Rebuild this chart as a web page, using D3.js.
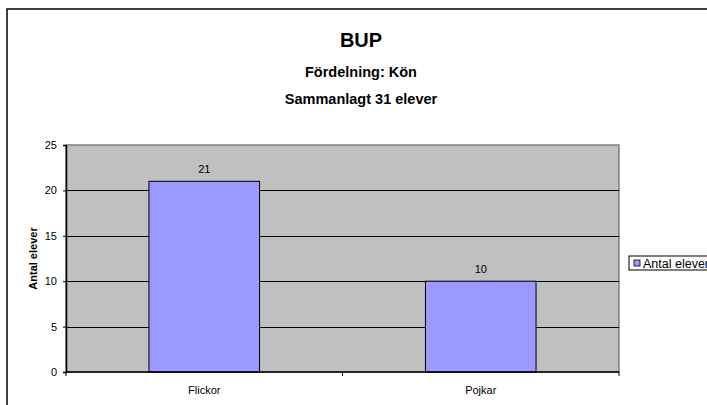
<!DOCTYPE html>
<html>
<head>
<meta charset="utf-8">
<script src="https://cdn.jsdelivr.net/npm/d3@7"></script>
<style>
  body { margin: 0; background: #fff; }
  svg { display: block; font-family: "Liberation Sans", Arial, sans-serif; }
</style>
</head>
<body>
<div id="chart"></div>
<script>
// data
const categories = ["Flickor", "Pojkar"];
const values = [21, 10];
const yTicks = [0, 5, 10, 15, 20, 25];
const titleLines = ["BUP", "Fördelning: Kön", "Sammanlagt 31 elever"];
const seriesName = "Antal elever";
const yLabel = "Antal elever";

/* sizes */
const width = 707, height = 405;
const plot = {left: 66, right: 619, top: 145, bottom: 372};

const svg = d3.select("#chart").append("svg")
  .attr("width", width)
  .attr("height", height);

/* outer chart frame (runs off right / bottom edges) */
svg.append("rect")
  .attr("x", 7).attr("y", 9)
  .attr("width", 720).attr("height", 420)
  .attr("fill", "#fff")
  .attr("stroke", "#000")
  .attr("stroke-width", 1.5);

/* titles */
svg.append("text")
  .attr("x", 361).attr("y", 47)
  .attr("text-anchor", "middle")
  .attr("font-size", 20).attr("font-weight", "bold")
  .text(titleLines[0]);
svg.append("text")
  .attr("x", 361).attr("y", 77)
  .attr("text-anchor", "middle")
  .attr("font-size", 14.5).attr("font-weight", "bold")
  .text(titleLines[1]);
svg.append("text")
  .attr("x", 361).attr("y", 104)
  .attr("text-anchor", "middle")
  .attr("font-size", 14.5).attr("font-weight", "bold")
  .text(titleLines[2]);

/* scales */
const x = d3.scaleBand()
  .domain(categories)
  .range([plot.left, plot.right]);
const y = d3.scaleLinear()
  .domain([0, 25])
  .range([plot.bottom, plot.top]);

/* plot area */
svg.append("rect")
  .attr("x", plot.left).attr("y", plot.top)
  .attr("width", plot.right - plot.left)
  .attr("height", plot.bottom - plot.top)
  .attr("fill", "#c0c0c0")
  .attr("stroke", "#808080")
  .attr("stroke-width", 1.5);

/* gridlines */
svg.append("g").selectAll("line")
  .data(yTicks.filter(d => d > 0 && d < 25))
  .enter().append("line")
  .attr("x1", plot.left).attr("x2", plot.right)
  .attr("y1", d => Math.round(y(d)) + 0.5)
  .attr("y2", d => Math.round(y(d)) + 0.5)
  .attr("stroke", "#000");

/* bars */
const bw = x.bandwidth();
svg.append("g").selectAll("rect")
  .data(values)
  .enter().append("rect")
  .attr("x", (d, i) => x(categories[i]) + bw * 0.3)
  .attr("y", d => y(d))
  .attr("width", bw * 0.4)
  .attr("height", d => y(0) - y(d))
  .attr("fill", "#9999ff")
  .attr("stroke", "#000")
  .attr("stroke-width", 1);

/* value labels */
svg.append("g").selectAll("text")
  .data(values)
  .enter().append("text")
  .attr("x", (d, i) => x(categories[i]) + bw / 2)
  .attr("y", d => y(d) - 8)
  .attr("text-anchor", "middle")
  .attr("font-size", 11)
  .text(d => d);

/* y axis */
const yAxis = d3.axisLeft(y)
  .tickValues(yTicks)
  .tickSize(3)
  .tickPadding(6)
  .tickFormat(d3.format("d"));
const gy = svg.append("g")
  .attr("transform", "translate(" + plot.left + ",0)")
  .call(yAxis);
gy.select(".domain").attr("stroke", "#000").attr("stroke-width", 1.5);
gy.selectAll("text").attr("font-size", 11).attr("font-family", null);

/* x axis */
const xAxis = d3.axisBottom(x)
  .tickSize(0)
  .tickPadding(14);
const gx = svg.append("g")
  .attr("transform", "translate(0," + plot.bottom + ")")
  .call(xAxis);
gx.select(".domain").attr("stroke", "#000").attr("stroke-width", 1.5)
  .attr("d", "M" + plot.left + ",0H" + plot.right);
gx.selectAll("text").attr("font-size", 11).attr("font-family", null);

/* ticks between categories */
const xBounds = [plot.left].concat(categories.map(c => x(c) + bw));
svg.append("g").selectAll("line")
  .data(xBounds)
  .enter().append("line")
  .attr("x1", d => d).attr("x2", d => d)
  .attr("y1", plot.bottom).attr("y2", plot.bottom + 4)
  .attr("stroke", "#000");

/* y label */
svg.append("text")
  .attr("transform", "translate(37," + ((plot.top + plot.bottom) / 2) + ") rotate(-90)")
  .attr("text-anchor", "middle")
  .attr("font-size", 11).attr("font-weight", "bold")
  .text(yLabel);

/* legend */
const lg = svg.append("g").attr("transform", "translate(629,256)");
lg.append("rect")
  .attr("x", 0).attr("y", 0)
  .attr("width", 95).attr("height", 14)
  .attr("fill", "#fff").attr("stroke", "#000");
lg.append("rect")
  .attr("x", 5).attr("y", 4)
  .attr("width", 6).attr("height", 6)
  .attr("fill", "#9999ff").attr("stroke", "#000").attr("stroke-width", 0.8);
lg.append("text")
  .attr("x", 14).attr("y", 11.5)
  .attr("font-size", 12.5)
  .text(seriesName);
</script>
</body>
</html>
